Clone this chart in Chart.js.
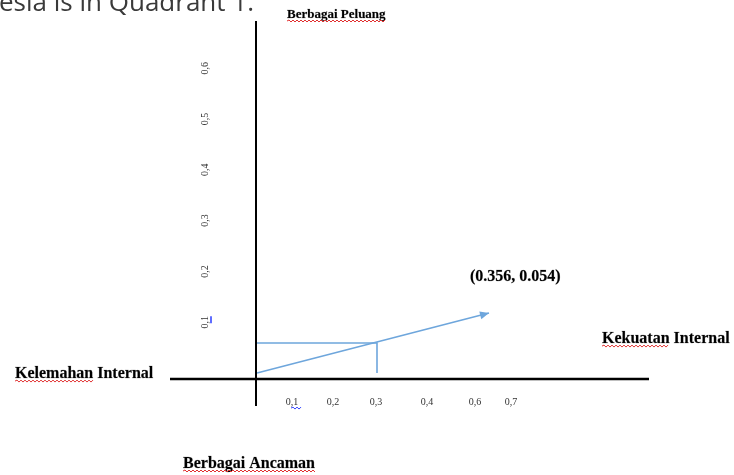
<!DOCTYPE html>
<html>
<head>
<meta charset="utf-8">
<script src="https://cdn.jsdelivr.net/npm/chart.js@4/dist/chart.umd.min.js"></script>
<style>
html,body{margin:0;padding:0;background:#fff;overflow:hidden}
#wrap{width:734px;height:475px;position:relative}
</style>
</head>
<body>
<div id="wrap"><canvas id="c"></canvas></div>
<script>
// ---- data ----
const vectorX = [0, 0.58];              // arrow from origin
const vectorY = [0, 0.118];
const projectionX = [0, 0.3, 0.3];      // helper lines to the marked point
const projectionY = [0.059, 0.059, 0];
const pointLabelValues = [0.356, 0.054];
const yTickValues = [0.1, 0.2, 0.3, 0.4, 0.5, 0.6];
const yTickLabels = ['0,1', '0,2', '0,3', '0,4', '0,5', '0,6'];
const xTickValues = [0.0875, 0.19, 0.2975, 0.425, 0.545, 0.635];
const xTickLabels = ['0,1', '0,2', '0,3', '0,4', '0,6', '0,7'];
const labelTop = 'Berbagai Peluang';
const labelBottom = 'Berbagai Ancaman';
const labelLeft = 'Kelemahan Internal';
const labelRight = 'Kekuatan Internal';
const pageText = 'esia is in Quadrant 1.';
const xAxisCrossing = -0.012;

const toPts = (xs, ys) => xs.map((x, i) => ({ x: x, y: ys[i] }));
const BLUE = '#6ea6dc';
const SERIF = '"Liberation Serif", "Times New Roman", serif';

function squiggle(ctx, x1, x2, y, color) {
  ctx.save();
  ctx.strokeStyle = color; ctx.lineWidth = 1;
  ctx.beginPath();
  let up = true;
  ctx.moveTo(x1, y);
  for (let x = x1 + 2; x <= x2; x += 2) { ctx.lineTo(x, up ? y - 1 : y + 1); up = !up; }
  ctx.stroke();
  ctx.restore();
}

function textWithSquiggle(ctx, txt, x, baseline, size, sq) {
  ctx.font = 'bold ' + size + 'px ' + SERIF;
  ctx.fillStyle = '#000';
  ctx.textAlign = 'left';
  ctx.textBaseline = 'alphabetic';
  ctx.fillText(txt, x, baseline);
  ctx.strokeStyle = 'rgba(0,0,0,0.35)';
  ctx.lineWidth = 0.5;
  ctx.strokeText(txt, x, baseline);
  if (sq) {
    const w = sq === true ? ctx.measureText(txt).width : ctx.measureText(sq).width;
    squiggle(ctx, x, x + w, baseline + 3, '#e03030');
  }
}

const decorPlugin = {
  id: 'decor',
  afterDatasetsDraw(chart) {
    const ctx = chart.ctx;
    const xs = chart.scales.x, ys = chart.scales.y;
    const area = chart.chartArea;
    const x0 = xs.getPixelForValue(0);
    const yAx = ys.getPixelForValue(xAxisCrossing);
    ctx.save();
    // axes
    ctx.strokeStyle = '#000';
    ctx.lineWidth = 2;
    ctx.beginPath();
    ctx.moveTo(x0 - 1, area.top); ctx.lineTo(x0 - 1, area.bottom);
    ctx.stroke();
    ctx.lineWidth = 2.5;
    ctx.beginPath();
    ctx.moveTo(area.left, yAx); ctx.lineTo(area.right, yAx);
    ctx.stroke();

    // arrow head on the vector
    const meta = chart.getDatasetMeta(0);
    const p1 = meta.data[meta.data.length - 2], p2 = meta.data[meta.data.length - 1];
    const ang = Math.atan2(p2.y - p1.y, p2.x - p1.x);
    const L = 9, W = 4;
    ctx.fillStyle = BLUE;
    ctx.beginPath();
    ctx.moveTo(p2.x, p2.y);
    ctx.lineTo(p2.x - L * Math.cos(ang) + W * Math.sin(ang), p2.y - L * Math.sin(ang) - W * Math.cos(ang));
    ctx.lineTo(p2.x - L * Math.cos(ang) - W * Math.sin(ang), p2.y - L * Math.sin(ang) + W * Math.cos(ang));
    ctx.closePath();
    ctx.fill();

    // point label
    const lbl = '(' + pointLabelValues[0].toFixed(3) + ', ' + pointLabelValues[1].toFixed(3) + ')';
    textWithSquiggle(ctx, lbl, p2.x - 19, p2.y - 32, 16, false);

    // tick labels
    ctx.font = '10px ' + SERIF;
    ctx.fillStyle = '#333';
    ctx.textAlign = 'center';
    ctx.textBaseline = 'middle';
    xTickValues.forEach((v, i) => {
      ctx.fillText(xTickLabels[i], xs.getPixelForValue(v), yAx + 23);
    });
    yTickValues.forEach((v, i) => {
      ctx.save();
      ctx.translate(x0 - 52, ys.getPixelForValue(v));
      ctx.rotate(-Math.PI / 2);
      ctx.fillStyle = '#333';
      ctx.fillText(yTickLabels[i], 0, 0);
      ctx.restore();
    });
    // blue proofing marks on the 0,1 labels
    const bx = xs.getPixelForValue(xTickValues[0]);
    squiggle(ctx, bx - 1, bx + 9, yAx + 29, '#2a3cff');
    ctx.strokeStyle = '#2a3cff'; ctx.lineWidth = 1.5;
    const by = ys.getPixelForValue(yTickValues[0]);
    ctx.beginPath(); ctx.moveTo(x0 - 46, by - 6); ctx.lineTo(x0 - 46, by + 1); ctx.stroke();

    // quadrant labels
    textWithSquiggle(ctx, labelTop, x0 + 30, 18, 13, true);
    textWithSquiggle(ctx, labelLeft, 15, yAx - 1, 16, 'Kelemahan');
    textWithSquiggle(ctx, labelRight, 602, yAx - 36, 16, 'Kekuatan');
    textWithSquiggle(ctx, labelBottom, 183, 468, 16, true);

    // cropped page text at the very top
    ctx.font = '26px "Open Sans", sans-serif';
    ctx.fillStyle = '#3a3a3a';
    ctx.textAlign = 'left';
    ctx.textBaseline = 'alphabetic';
    ctx.fillText(pageText, -1, 11);
    ctx.restore();
  }
};

new Chart(document.getElementById('c'), {
  type: 'scatter',
  data: {
    datasets: [
      { data: toPts(vectorX, vectorY), showLine: true, borderColor: BLUE, borderWidth: 1.6, pointRadius: 0, tension: 0 },
      { data: toPts(projectionX, projectionY), showLine: true, borderColor: BLUE, borderWidth: 1.6, pointRadius: 0, tension: 0 }
    ]
  },
  options: {
    responsive: true,
    maintainAspectRatio: false,
    animation: false,
    events: [],
    layout: { padding: { left: 170, right: 85, top: 21, bottom: 69 } },
    plugins: { legend: { display: false }, tooltip: { enabled: false } },
    scales: {
      x: { type: 'linear', display: false, min: -0.2175, max: 0.98 },
      y: { type: 'linear', display: false, min: -0.065, max: 0.693 }
    }
  },
  plugins: [decorPlugin]
});
</script>
</body>
</html>
